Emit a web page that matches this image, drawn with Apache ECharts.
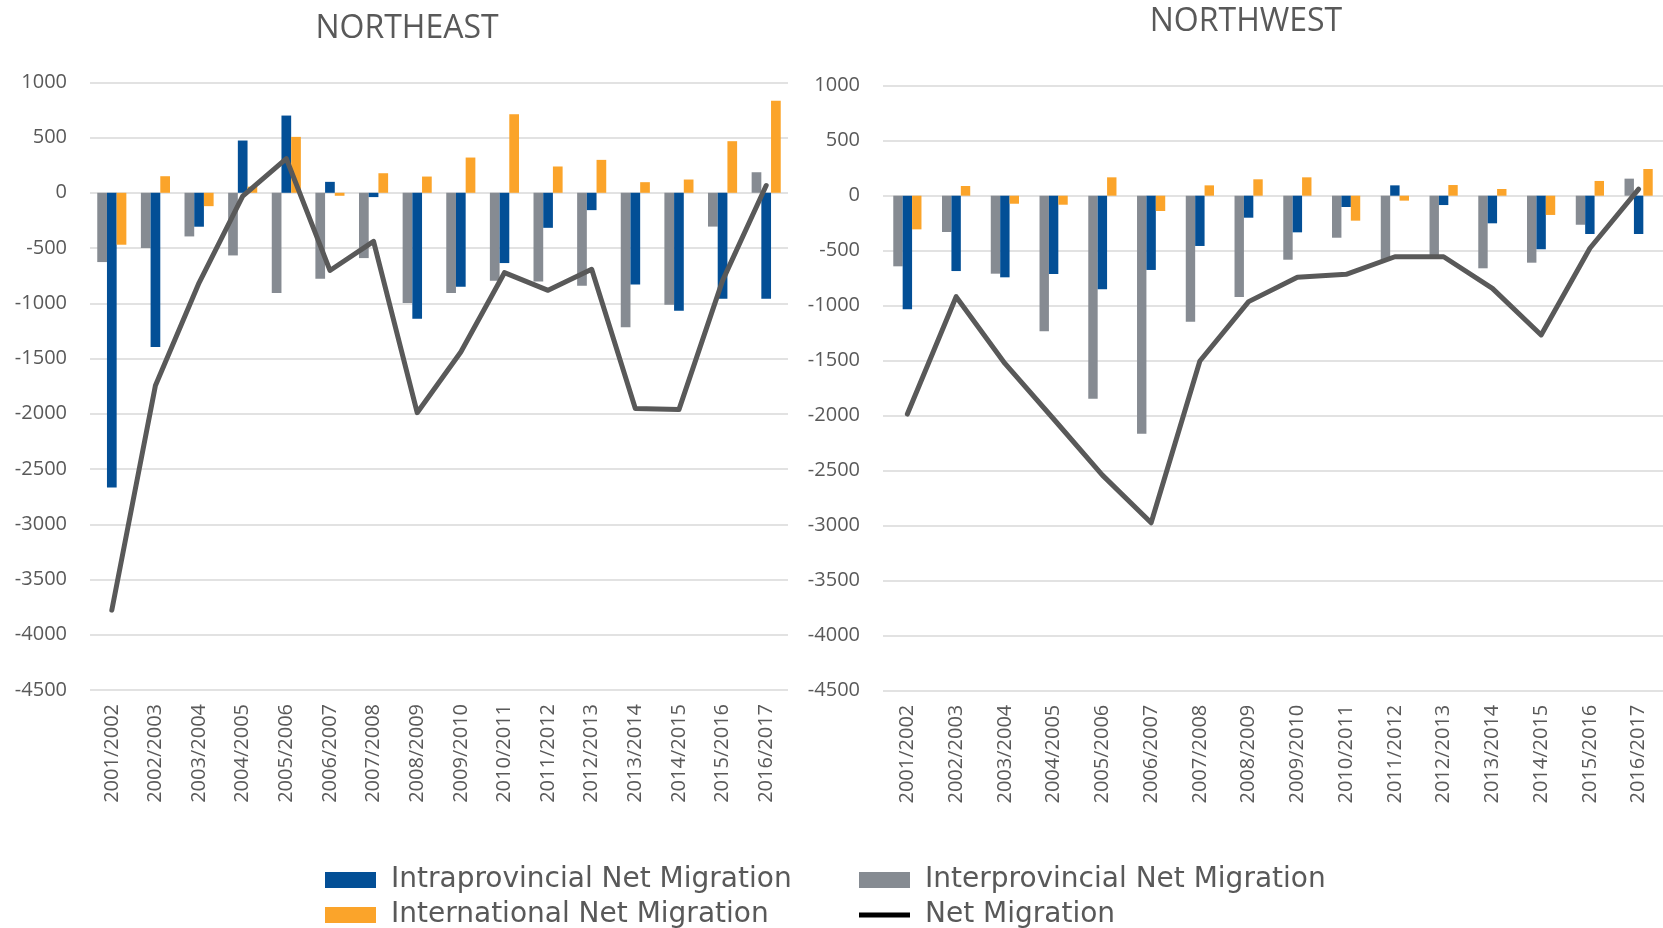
<!DOCTYPE html>
<html>
<head>
<meta charset="utf-8">
<script src="https://cdn.jsdelivr.net/npm/echarts@6/dist/echarts.min.js"></script>
<style>
html,body{margin:0;padding:0;background:#fff;}
#c{width:1663px;height:928px;}
</style>
</head>
<body>
<div id="c"></div>
<script>
const categories = ['2001/2002','2002/2003','2003/2004','2004/2005','2005/2006','2006/2007','2007/2008','2008/2009','2009/2010','2010/2011','2011/2012','2012/2013','2013/2014','2014/2015','2015/2016','2016/2017'];
const yTicks = {min: -4500, max: 1000, interval: 500};

// NORTHEAST
const neInter = [-627, -500, -395, -567, -907, -778, -591, -998, -907, -796, -802, -841, -1218, -1013, -306, 186];
const neIntra = [-2667, -1396, -307, 473, 699, 99, -39, -1140, -850, -636, -317, -157, -829, -1067, -959, -959];
const neIntl  = [-470, 150, -121, 55, 506, -27, 177, 147, 319, 711, 238, 298, 96, 120, 467, 832];
const neNet   = [-3777, -1745, -815, -30, 310, -703, -440, -1990, -1441, -723, -883, -693, -1953, -1962, -795, 66];

// NORTHWEST
const nwInter = [-642, -330, -709, -1233, -1845, -2164, -1145, -921, -582, -382, -590, -565, -660, -609, -264, 155];
const nwIntra = [-1033, -685, -742, -712, -851, -675, -457, -200, -333, -103, 94, -85, -251, -487, -348, -348];
const nwIntl  = [-306, 88, -73, -82, 167, -139, 94, 149, 167, -227, -45, 97, 61, -175, 134, 243];
const nwNet   = [-1985, -918, -1525, -2030, -2540, -2973, -1503, -963, -742, -715, -555, -555, -842, -1266, -478, 60];

const titles = ['NORTHEAST', 'NORTHWEST'];
const names = {intra: 'Intraprovincial Net Migration', inter: 'Interprovincial Net Migration', intl: 'International Net Migration', net: 'Net Migration'};

const C = {blue: '#034F96', gray: '#868B92', orange: '#FBA42A', line: '#595959', text: '#595959', grid: '#d9d9d9'};
const FONT = 'Open Sans';

function xAx(i){
  return {type:'category', gridIndex:i, data:categories, boundaryGap:true,
    axisLine:{show:false}, axisTick:{show:false},
    axisLabel:{rotate:90, margin:14, fontSize:20, color:C.text, fontFamily:FONT}};
}
function yAx(i){
  return {type:'value', gridIndex:i, min:yTicks.min, max:yTicks.max, interval:yTicks.interval,
    axisLine:{show:false}, axisTick:{show:false},
    axisLabel:{margin:23, fontSize:20, color:C.text, fontFamily:FONT, formatter:function(v){return String(v);}},
    splitLine:{lineStyle:{color:C.grid, width:1.5}}};
}
function bars(i, inter, intra, intl, bw){
  return [
    {name:names.inter, type:'bar', xAxisIndex:i, yAxisIndex:i, data:inter, barWidth:bw, barGap:'0%', itemStyle:{color:C.gray}},
    {name:names.intra, type:'bar', xAxisIndex:i, yAxisIndex:i, data:intra, barWidth:bw, barGap:'0%', itemStyle:{color:C.blue}},
    {name:names.intl, type:'bar', xAxisIndex:i, yAxisIndex:i, data:intl, barWidth:bw, barGap:'0%', itemStyle:{color:C.orange}}
  ];
}
function lineS(i, data){
  return {name:names.net, type:'line', xAxisIndex:i, yAxisIndex:i, data:data, symbol:'none', z:5,
    itemStyle:{color:'#000'},
    lineStyle:{color:C.line, width:5, cap:'round', join:'round'}};
}
const legText = {fontSize:28, color:C.text, fontFamily:'DejaVu Sans', fontWeight:'normal', padding:[0,0,0,10]};
function leg(name, left, top, color, h){
  return {data:[{name:name, itemStyle:{color:color}, icon:'rect'}], left:left, top:top, itemWidth:51, itemHeight:h,
    selectedMode:false, textStyle:legText, padding:0};
}

const chart = echarts.init(document.getElementById('c'), null, {renderer:'canvas'});
chart.setOption({
  backgroundColor:'#fff',
  animation:false,
  title:[
    {text:titles[0], left:402, top:8, textAlign:'center', textStyle:{fontSize:32, fontWeight:'normal', color:C.text, fontFamily:FONT}},
    {text:titles[1], left:1241, top:1, textAlign:'center', textStyle:{fontSize:32, fontWeight:'normal', color:C.text, fontFamily:FONT}}
  ],
  grid:[
    {left:90, top:82.3, width:698, height:607.7, containLabel:false},
    {left:883, top:85.7, width:780, height:605, containLabel:false}
  ],
  xAxis:[xAx(0), xAx(1)],
  yAxis:[yAx(0), yAx(1)],
  legend:[
    leg(names.intra, 325, 866, C.blue, 16),
    leg(names.inter, 859, 866, C.gray, 16),
    leg(names.intl, 325, 901, C.orange, 16),
    leg(names.net, 859, 901, '#000', 5)
  ],
  series:[].concat(
    bars(0, neInter, neIntra, neIntl, 9.7), [lineS(0, neNet)],
    bars(1, nwInter, nwIntra, nwIntl, 9.4), [lineS(1, nwNet)]
  )
});
</script>
</body>
</html>
